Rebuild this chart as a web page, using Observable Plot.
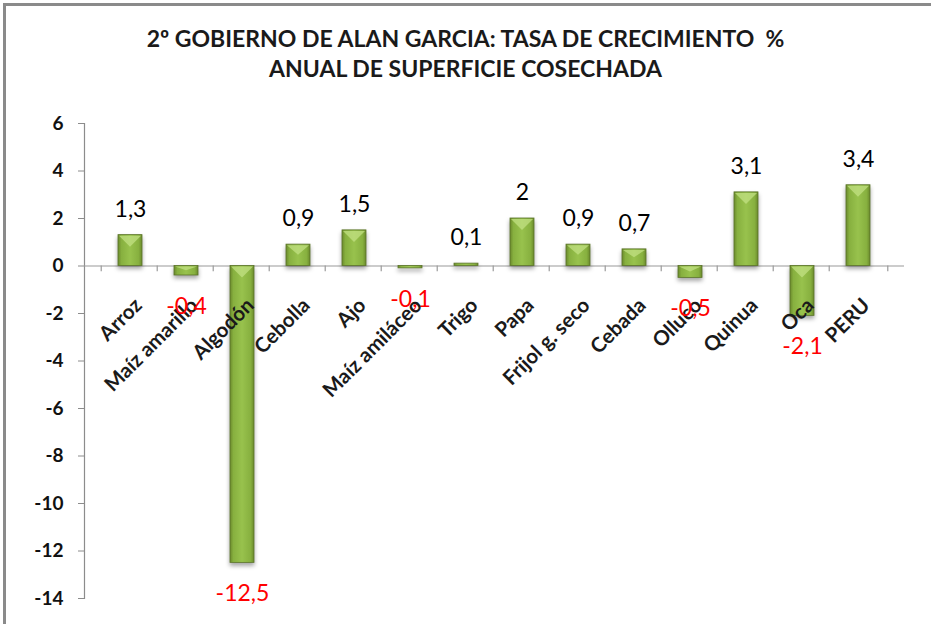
<!DOCTYPE html>
<html>
<head>
<meta charset="utf-8">
<script src="https://cdn.jsdelivr.net/npm/d3@7"></script>
<script src="https://cdn.jsdelivr.net/npm/@observablehq/plot@0.6"></script>
<style>
  html, body { margin: 0; padding: 0; background: #fff; overflow: hidden; }
  #wrap { position: relative; width: 931px; height: 624px; overflow: hidden; }
  #border { position: absolute; left: 3px; top: 3px; width: 1200px; height: 1200px; border-left: 3px solid #8a8a8a; border-top: 3px solid #8a8a8a; box-sizing: border-box; }
  #title { position: absolute; left: 0; top: 23px; width: 931px; text-align: center; font-family: Lato, "Open Sans", sans-serif; font-weight: bold; font-size: 23px; line-height: 30px; color: #1a1a1a; white-space: pre; }
  #chart { position: absolute; left: 0; top: 0; }
</style>
</head>
<body>
<div id="wrap">
  <div id="border"></div>
  <div id="chart"></div>
  <div id="title">2º GOBIERNO DE ALAN GARCIA: TASA DE CRECIMIENTO  %
ANUAL DE SUPERFICIE COSECHADA</div>
</div>
<script>
const categories = ["Arroz", "Maíz amarillo", "Algodón", "Cebolla", "Ajo", "Maíz amiláceo", "Trigo", "Papa", "Frijol g. seco", "Cebada", "Olluco", "Quinua", "Oca", "PERU"];
const values = [1.3, -0.4, -12.5, 0.9, 1.5, -0.1, 0.1, 2, 0.9, 0.7, -0.5, 3.1, -2.1, 3.4];
const yTicks = [-14, -12, -10, -8, -6, -4, -2, 0, 2, 4, 6];

const data = categories.map((c, i) => ({cat: c, val: values[i]}));
const fmt = v => String(v).replace(".", ",");

const W = 931, H = 624;
const mL = 84, mR = 27, mT = 123, mB = 26;
const step = (W - mL - mR) / categories.length;

const chart = Plot.plot({
  width: W,
  height: H,
  marginLeft: mL,
  marginRight: mR,
  marginTop: mT,
  marginBottom: mB,
  style: {background: "transparent", fontFamily: "Lato, 'Open Sans', sans-serif", overflow: "visible"},
  x: {domain: categories, padding: 0.57, axis: null},
  y: {domain: [-14, 6], axis: null},
  marks: [
    Plot.axisY({ticks: yTicks, label: null, tickSize: 6, tickPadding: 15, stroke: "#8c8c8c", fill: "#111", fontSize: 19, fontWeight: "bold", tickFormat: d => String(d)}),
    Plot.frame({anchor: "left", stroke: "#8c8c8c", strokeWidth: 1.2}),
    Plot.ruleY([0], {stroke: "#9a9a9a", strokeWidth: 1.2}),
    Plot.ruleX(categories, {x: d => d, y1: 0, y2: -0.24, dx: -step / 2, stroke: "#9a9a9a", strokeWidth: 1.2}),
    Plot.ruleX(categories.slice(-1), {x: d => d, y1: 0, y2: -0.24, dx: step / 2, stroke: "#9a9a9a", strokeWidth: 1.2}),
    Plot.barY(data, {x: "cat", y: "val", fill: "url(#barGrad)", stroke: "#5b7428", strokeWidth: 0.8, className: "bars"}),
    Plot.text(data, {x: "cat", y: 0, text: "cat", rotate: -45, textAnchor: "end", lineAnchor: "middle", dx: 8, dy: 36, fontSize: 20.5, fontWeight: "bold", fill: "#1a1a1a"}),
    Plot.text(data.filter(d => d.val >= 0), {x: "cat", y: "val", text: d => fmt(d.val), dy: -26, fontSize: 23, fill: "#000"}),
    Plot.text(data.filter(d => d.val < 0), {x: "cat", y: "val", text: d => fmt(d.val), dy: 31, fontSize: 23, fill: "#ff0000"})
  ]
});

const ns = "http://www.w3.org/2000/svg";
const defs = document.createElementNS(ns, "defs");
defs.innerHTML = `
  <linearGradient id="barGrad" x1="0" x2="1" y1="0" y2="0">
    <stop offset="0%" stop-color="#6b8a2c"/>
    <stop offset="14%" stop-color="#87b03f"/>
    <stop offset="50%" stop-color="#98c24d"/>
    <stop offset="86%" stop-color="#87b03f"/>
    <stop offset="100%" stop-color="#6b8a2c"/>
  </linearGradient>`;
chart.insertBefore(defs, chart.firstChild);
const bars = chart.querySelector("g.bars");
if (bars) {
  bars.style.filter = "drop-shadow(0px 3px 2px rgba(0,0,0,0.35))";
  // bevel highlight on the top edge of each bar, derived from the rendered rects
  bars.querySelectorAll("rect").forEach(r => {
    const x = +r.getAttribute("x"), y = +r.getAttribute("y");
    const w = +r.getAttribute("width"), h = +r.getAttribute("height");
    const d = Math.min(12, h / 2);
    const p = document.createElementNS(ns, "polygon");
    p.setAttribute("points", `${x + 1},${y + 1} ${x + w - 1},${y + 1} ${x + w / 2},${y + d}`);
    p.setAttribute("fill", "#c2e083");
    p.setAttribute("fill-opacity", "0.75");
    p.setAttribute("stroke", "none");
    bars.appendChild(p);
  });
}
document.getElementById("chart").appendChild(chart);
</script>
</body>
</html>
